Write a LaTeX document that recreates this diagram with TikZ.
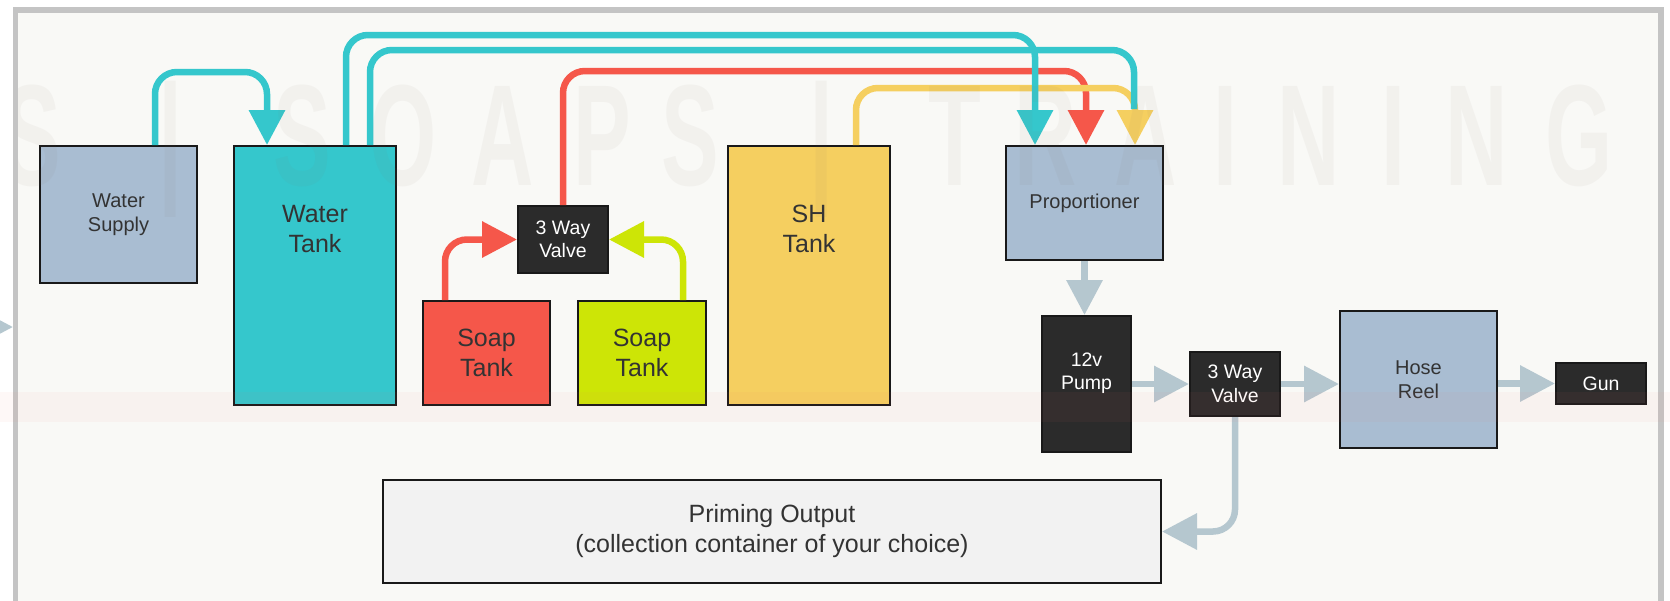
\documentclass[tikz,border=0pt]{standalone}
\usepackage{fontspec}
\setmainfont{Liberation Sans}
\usetikzlibrary{arrows.meta}
\definecolor{paper}{HTML}{F9F9F6}
\definecolor{framegray}{HTML}{C4C4C4}
\definecolor{steel}{HTML}{A9BDD2}
\definecolor{aqua}{HTML}{35C7CC}
\definecolor{soapred}{HTML}{F5574A}
\definecolor{soapgreen}{HTML}{CDE506}
\definecolor{mustard}{HTML}{F5CF60}
\definecolor{coal}{HTML}{2B2B2B}
\definecolor{linkgray}{HTML}{B5C7CF}
\definecolor{pale}{HTML}{F2F2F2}
\definecolor{ink}{HTML}{333333}
\definecolor{wmcol}{RGB}{130,110,100}
\definecolor{bandcol}{RGB}{240,120,110}
\begin{document}
\begin{tikzpicture}[x=1pt,y=-1pt,
    box/.style={draw=black!90,line width=2pt,inner sep=0pt,align=center,text=ink,font=\fontsize{20}{24}\selectfont},
    big/.style={font=\fontsize{25}{30}\selectfont},
    dark/.style={box,fill=coal,text=white,font=\fontsize{19.5}{23.5}\selectfont},
    tag/.style={align=center,inner sep=0pt,text=ink},
    pipe/.style={line width=6.5pt,rounded corners=22pt,-{Triangle[length=35pt,width=35pt]}},
    flow/.style={pipe,draw=linkgray},
    wmark/.style={anchor=base,text=wmcol,opacity=0.055,font=\fontsize{144}{144}\selectfont\bfseries}]
  \useasboundingbox (0,0) rectangle (1670,600);
  \fill[white] (0,0) rectangle (1670,600);
  \draw[framegray,line width=5.5pt,fill=paper] (15.5,10) rectangle (1661,640);

  \node[box,fill=steel,minimum width=157pt,minimum height=137pt] (ws) at (118.5,214.5) {Water\\Supply};
  \node[box,fill=aqua,minimum width=162pt,minimum height=259pt] (wt) at (315,275.5) {};
  \node[tag,big] (wtL) at (315,229) {Water\\Tank};
  \node[dark,minimum width=90pt,minimum height=67pt] (v1) at (563,239.5) {3 Way\\Valve};
  \node[box,big,fill=soapred,minimum width=127pt,minimum height=104pt] (st1) at (486.5,353) {Soap\\Tank};
  \node[box,big,fill=soapgreen,minimum width=128pt,minimum height=104pt] (st2) at (642,353) {Soap\\Tank};
  \node[box,fill=mustard,minimum width=162pt,minimum height=259pt] (sh) at (809,275.5) {};
  \node[tag,big] (shL) at (809,229) {SH\\Tank};
  \node[box,fill=steel,minimum width=157pt,minimum height=114pt] (pr) at (1084.5,203) {Proportioner};
  \node[dark,minimum width=89pt,minimum height=136pt] (pump) at (1086.5,384) {};
  \node[tag,text=white,font=\fontsize{19.5}{23.5}\selectfont] (pumpL) at (1086.5,373) {12v\\Pump};
  \node[dark,minimum width=90pt,minimum height=64pt] (v2) at (1235,384) {3 Way\\Valve};
  \node[box,fill=steel,minimum width=157pt,minimum height=137pt] (hr) at (1418.5,379.5) {Hose\\Reel};
  \node[dark,minimum width=90pt,minimum height=41pt] (gun) at (1601,383.5) {Gun};
  \node[box,big,fill=pale,minimum width=778pt,minimum height=103pt] (po) at (772,531.5) {Priming Output\\(collection container of your choice)};

  \draw[pipe,aqua] (ws.north -| 155,0) -- (155,72) -- (267,72) -- (wt.north -| 267,0);
  \draw[pipe,soapred] (st1.north -| 445,0) |- (v1.west);
  \draw[pipe,soapgreen] (st2.north -| 683,0) |- (v1.east);
  \draw[pipe,soapred] (v1.north) -- (563,71) -- (1086,71) -- (pr.north -| 1086,0);
  \draw[pipe,mustard] (sh.north -| 856,0) -- (856,88) -- (1135,88) -- (pr.north -| 1135,0);
  \draw[pipe,aqua,-,shorten >=36pt] (wt.north -| 370,0) -- (370,50) -- (1134,50) -- (pr.north -| 1134,0);
  \draw[pipe,aqua] (wt.north -| 346,0) -- (346,35) -- (1035,35) -- (pr.north -| 1035,0);

  \coordinate (inL) at (-40,327);
  \coordinate (inR) at (13,327);
  \draw[flow] (inL) -- (inR);
  \draw[flow] (pr.south) -- (pr.south |- pump.north);
  \draw[flow] (pump.east) -- (v2.west);
  \draw[flow] (v2.east) -- (v2.east -| hr.west);
  \draw[flow] (hr.east |- gun.west) -- (gun.west);
  \draw[flow] (v2.south) |- (po.east);

  \begin{scope}
    \clip (18,13) rectangle (1658,600);
    \foreach \ch/\px [count=\i] in {S/32,|/171,S/302,O/403,A/503,P/602,S/690,|/822,T/955,R/1046,A/1146,I/1225,N/1309,I/1393,N/1477,G/1579}
      \node[wmark] (wm\i) at (\px,185) {\scalebox{0.6}[1]{\ch}};
  \end{scope}
  \fill[bandcol,opacity=0.05] (0,392) rectangle (1670,422);
\end{tikzpicture}
\end{document}
